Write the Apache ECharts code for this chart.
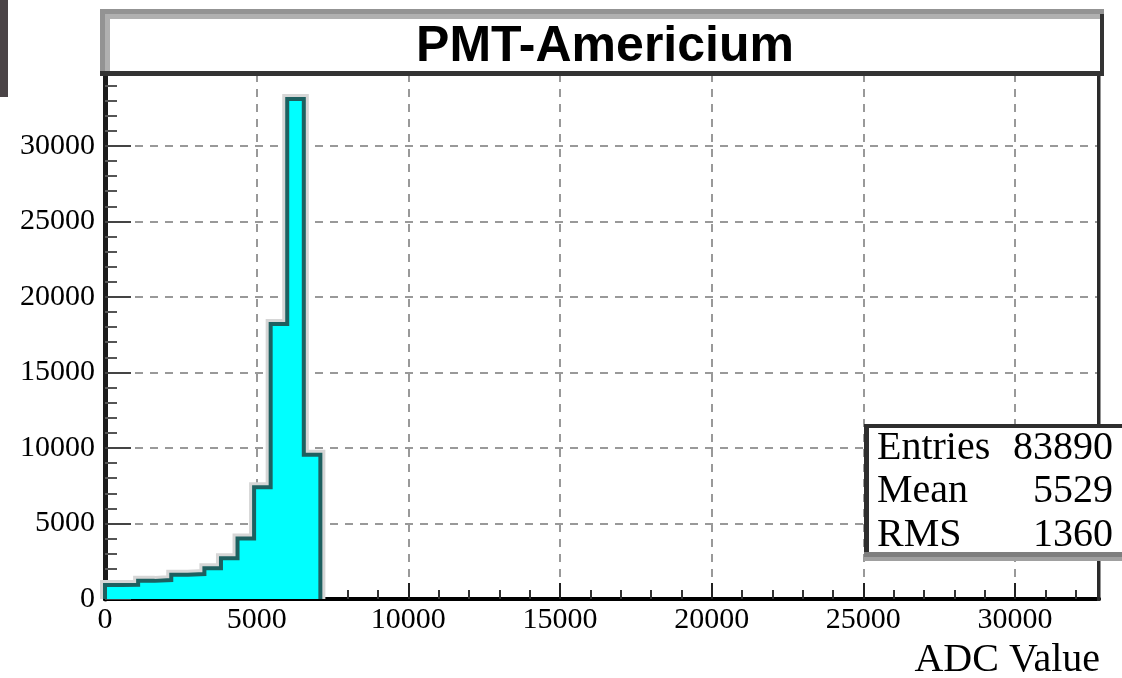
<!DOCTYPE html>
<html><head><meta charset="utf-8">
<script src="https://cdn.jsdelivr.net/npm/echarts@6/dist/echarts.min.js"></script>
<style>html,body{margin:0;padding:0;background:#fff}#c{width:1122px;height:678px}</style>
</head><body><div id="c"></div>
<script>
// ---- data ----
const chartTitle = 'PMT-Americium';
const xAxisTitle = 'ADC Value';
const binStart = 0;
const binWidth = 32768 / 60;
const counts = [930, 940, 1200, 1250, 1600, 1650, 2030, 2700, 4000, 7400, 18200, 33100, 9550];
const xMin = 0, xMax = 32768, xStep = 5000;
const yMin = 0, yMax = 34755, yStep = 5000;
const statsLabels = ['Entries', 'Mean', 'RMS'];
const statsValues = ['83890', '5529', '1360'];

// histogram outline in data space
const outline = [[binStart, 0]];
counts.forEach((c, i) => {
  const lo = binStart + i * binWidth;
  outline.push([lo, c], [lo + binWidth, c]);
});
outline.push([binStart + counts.length * binWidth, 0]);

const serif = '"Liberation Serif", "Times New Roman", serif';
const chart = echarts.init(document.getElementById('c'), null, {renderer: 'canvas'});

const statsRowY = [448, 491, 535];
const statsEls = [];
statsLabels.forEach((lab, i) => {
  statsEls.push({type: 'text', z: 102, style: {text: lab, x: 877, y: statsRowY[i], fill: '#000',
    font: '40px ' + serif, align: 'left', verticalAlign: 'middle'}});
  statsEls.push({type: 'text', z: 102, style: {text: statsValues[i], x: 1113, y: statsRowY[i], fill: '#000',
    font: '40px ' + serif, align: 'right', verticalAlign: 'middle'}});
});

const plain = v => String(v);

const option = {
  animation: false,
  backgroundColor: '#fff',
  grid: {left: 105, right: 23, top: 74, bottom: 79, show: true, borderColor: '#2a2a2a', borderWidth: 3},
  xAxis: {
    type: 'value', min: xMin, max: xMax, interval: xStep,
    axisLine: {show: true, onZero: false, lineStyle: {color: '#000', width: 4}},
    axisTick: {show: true, inside: true, length: 16, lineStyle: {color: '#222', width: 2}},
    minorTick: {show: true, splitNumber: 5, length: 9, lineStyle: {color: '#333', width: 2}},
    axisLabel: {fontFamily: serif, fontSize: 30, color: '#000', margin: 6, showMaxLabel: false, formatter: plain},
    splitLine: {show: true, lineStyle: {color: '#999', width: 2, type: [8, 7]}}
  },
  yAxis: {
    type: 'value', min: yMin, max: yMax, interval: yStep,
    axisLine: {show: true, onZero: false, lineStyle: {color: '#1c1c1c', width: 5}},
    axisTick: {show: true, inside: true, length: 26, lineStyle: {color: '#444', width: 2}},
    minorTick: {show: true, splitNumber: 5, length: 12, lineStyle: {color: '#555', width: 2}},
    axisLabel: {fontFamily: serif, fontSize: 30, color: '#000', margin: 10, showMaxLabel: false, formatter: plain},
    splitLine: {show: true, lineStyle: {color: '#999', width: 2, type: [8, 7]}}
  },
  series: [
    {type: 'line', data: outline, showSymbol: false, symbol: 'none', silent: true, z: 2,
      lineStyle: {color: '#d6d6d6', width: 10, cap: 'butt', join: 'miter'}},
    {type: 'line', data: outline, showSymbol: false, symbol: 'none', silent: true, z: 3,
      lineStyle: {color: '#1d6060', width: 4, cap: 'butt', join: 'miter'},
      areaStyle: {color: '#00ffff', opacity: 1}}
  ],
  graphic: {elements: [
    {type: 'rect', z: 100, shape: {x: 0, y: 0, width: 8, height: 97}, style: {fill: '#4a4446'}},
    // right frame edge
    {type: 'rect', z: 99, shape: {x: 1097, y: 74, width: 3, height: 527}, style: {fill: '#2a2a2a'}},
    // title box
    {type: 'rect', z: 100, shape: {x: 100, y: 9, width: 1004, height: 67}, style: {fill: '#fff'}},
    {type: 'rect', z: 101, shape: {x: 100, y: 9, width: 1004, height: 5}, style: {fill: '#939393'}},
    {type: 'rect', z: 101, shape: {x: 105, y: 14, width: 996, height: 5}, style: {fill: '#b0b0b0'}},
    {type: 'rect', z: 101, shape: {x: 100, y: 9, width: 5, height: 63}, style: {fill: '#939393'}},
    {type: 'rect', z: 101, shape: {x: 105, y: 14, width: 5, height: 58}, style: {fill: '#b0b0b0'}},
    {type: 'rect', z: 101, shape: {x: 1100, y: 14, width: 4, height: 62}, style: {fill: '#333'}},
    {type: 'rect', z: 101, shape: {x: 100, y: 71, width: 1004, height: 5}, style: {fill: '#333'}},
    {type: 'text', z: 102, style: {text: chartTitle, x: 605, y: 47, fill: '#000',
      font: 'bold 50px "Liberation Sans", Arial, sans-serif', align: 'center', verticalAlign: 'middle'}},
    // stats box
    {type: 'rect', z: 100, shape: {x: 864, y: 424, width: 262, height: 134}, style: {fill: '#fff'}},
    {type: 'rect', z: 101, shape: {x: 864, y: 424, width: 5, height: 133}, style: {fill: '#2e2e2e'}},
    {type: 'rect', z: 101, shape: {x: 864, y: 424, width: 262, height: 4}, style: {fill: '#2e2e2e'}},
    {type: 'rect', z: 101, shape: {x: 864, y: 552, width: 262, height: 5}, style: {fill: '#7f7f7f'}},
    {type: 'rect', z: 101, shape: {x: 864, y: 557, width: 262, height: 4}, style: {fill: '#a0a0a0'}},
    ...statsEls,
    // x axis title
    {type: 'text', z: 102, style: {text: xAxisTitle, x: 1100, y: 660, fill: '#000',
      font: '40px ' + serif, align: 'right', verticalAlign: 'middle'}}
  ]}
};
chart.setOption(option);
</script>
</body></html>
